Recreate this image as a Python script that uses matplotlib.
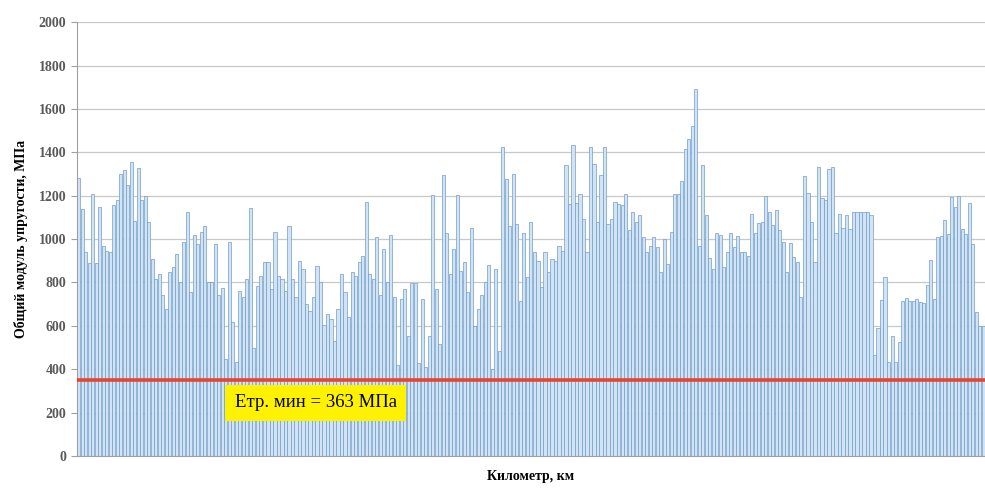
import matplotlib
matplotlib.use("Agg")
import matplotlib.pyplot as plt
import numpy as np

seg1 = [1280,1140,940,890,1210,890,1150,970,947,942,1155,1180,1300,1317,1247,1355,1085,1327,1178,1200,
        1078,908,816,840,740,678,847,870,931,800,985,1127,755,1020,978,1032,1062,800,800,978,
        740,773,447,985,616,431,762,731,816,1142,496,785,831,893,893,770,1032,831,816,762,
        1062,816,731,900]
seg2 = [862,700,670,731,875,800,604,655,631,531,678,840,755,639,850,831,893,924,1170,840,
        816,1009,740,955,800,1020,731,420,724,770,554,798,798,430,724,410,554,1204,770,516,
        1294,1029,840,955,1204,855,896,755,1050,600,678,740,800,881,400,862,485,1424,1278,1062]
seg3 = [1300,1070,716,1029,824,1078,940,900,778,940,850,908,900,970,947,1343,1163,1432,1167,1209,
        1093,940,1424,1347,1081,1294,1424,1070,1093,1173,1163,1158,1209,1044,1127,1081,1112,1009,940,970,
        1009,962,847,1001,885,1032,1209,1209,1266,1417,1463,1521,1694,970,1340,1112,912,862,1029,1020,
        870,940]
seg4 = [1029,962,1014,942,940,924,1117,1029,1075,1081,1198,1124,1066,1132,1040,985,847,982,916,893,
        731,1290,1213,1081,893,1332,1189,1178,1321,1332,1029,1117,1050,1112,1047,1127,1124,1127,1124,1124,
        1109,465,588,719,824,431,551,431,527,716,727,716,716,724,708,705,788,905,724,1009,
        1014,1086,1024,1193,1147,1198,1047,1024,1167,978,665,597,600]
values = seg1 + seg2 + seg3 + seg4
e_min = 350
label_text = "Етр. мин = 363 МПа"
y_ticks = [0, 200, 400, 600, 800, 1000, 1200, 1400, 1600, 1800, 2000]

fig = plt.figure(figsize=(9.85, 4.88), dpi=100)
ax = fig.add_axes([0.078, 0.0656, 0.922, 0.889])
x = np.arange(len(values))
ax.bar(x, values, width=0.9, color="#d2e3f3", edgecolor="#6f9dcc", linewidth=0.5, zorder=2)
ax.axhline(e_min, color="#e8452f", linewidth=2.6, zorder=3)
ax.set_xlim(-0.5, len(values) - 0.5)
ax.set_ylim(0, 2000)
ax.set_yticks(y_ticks)
ax.set_xticks([])
ax.yaxis.grid(True, color="#c8c8c8", linewidth=0.9, zorder=0)
ax.set_axisbelow(True)
for s in ["top", "right"]:
    ax.spines[s].set_visible(False)
ax.spines["left"].set_color("#a0a0a0")
ax.spines["bottom"].set_color("#a0a0a0")
ax.tick_params(axis="y", colors="#a0a0a0", labelcolor="#5a5a5a", length=4, labelsize=10)
for lbl in ax.get_yticklabels():
    lbl.set_fontfamily("Liberation Serif")
    lbl.set_fontweight("bold")
ax.set_ylabel("Общий модуль упругости, МПа", fontfamily="Liberation Serif",
              fontweight="bold", fontsize=10, labelpad=8)
ax.set_xlabel("Километр, км", fontfamily="Liberation Serif", fontweight="bold",
              fontsize=10, labelpad=10)
ax.text(44.5, 245, label_text, fontfamily="Liberation Serif", fontsize=13.5, color="black",
        va="center", ha="left", zorder=5,
        bbox=dict(boxstyle="square,pad=0.5", facecolor="#fff200", edgecolor="none"))
fig.savefig("out.png", dpi=100)
